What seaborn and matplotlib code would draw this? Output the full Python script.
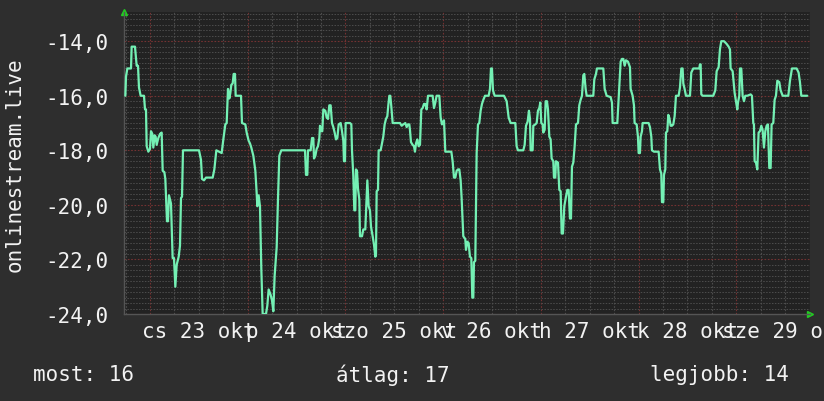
"""Munin/RRD style week graph of onlinestream.live signal level."""

import matplotlib

matplotlib.use("Agg")

import matplotlib.pyplot as plt
import pandas as pd
import seaborn as sns
from matplotlib.ticker import MultipleLocator

START = pd.Timestamp("2025-10-22 17:37")
SPAN_HOURS = 168.5

# traced vertices: hours since START, value
hours = [
    0.33, 0.49, 0.82, 1.72, 1.88, 2.70, 3.11, 3.44, 3.68, 4.09, 4.91, 5.16, 5.40, 5.57, 5.98,
    6.39, 6.63, 6.96, 7.20, 7.53, 7.78, 8.02, 8.43, 8.84, 9.25, 9.50, 9.91, 10.15, 10.56, 10.81,
    11.05, 11.30, 11.54, 11.95, 12.28, 12.61, 12.94, 13.43, 13.75, 14.00, 14.25, 14.49, 18.42,
    18.91, 19.16, 19.65, 20.14, 21.78, 22.19, 22.68, 23.99, 24.40, 24.89, 25.22, 25.54, 25.87,
    26.12, 26.36, 26.69, 26.94, 27.26, 27.43, 28.74, 28.98, 29.80, 30.13, 30.62, 30.95, 31.27,
    31.77, 32.26, 32.58, 32.75, 33.07, 33.40, 33.73, 34.06, 34.88, 35.20, 35.53, 36.02, 36.35,
    36.68, 37.00, 37.50, 37.82, 38.15, 38.64, 42.00,
    44.46, 44.70, 45.03, 45.19, 45.85, 46.18, 46.50, 46.67, 47.00, 47.32, 47.65, 47.98, 48.14,
    48.47, 48.71, 48.96, 49.45, 49.78, 50.11, 50.43, 50.76, 51.09, 51.42, 51.74, 52.07, 52.40,
    52.73, 53.22, 53.55, 53.87, 54.03, 54.28, 54.44, 55.51, 55.84, 56.00, 56.33, 56.57, 56.82,
    56.98, 57.23, 57.47, 57.80, 57.96, 58.46, 58.78, 59.27, 59.77, 60.09, 60.42, 60.67, 61.08,
    61.40, 61.73, 61.89, 62.06, 62.39, 62.55, 63.04, 63.37, 63.69, 64.02, 64.35, 64.68, 64.92,
    65.17, 65.41, 65.66, 65.99, 67.79, 68.20, 68.61, 69.10, 69.43, 69.75, 70.08, 70.24, 70.49,
    70.90, 71.23, 71.47, 71.72, 72.05, 72.37, 72.70, 73.03, 73.36, 73.68, 74.01, 74.34, 74.67,
    75.81, 76.14, 76.47, 76.79, 77.45, 77.78, 78.10, 78.60, 78.92, 80.40, 80.72, 81.05, 81.38,
    81.71, 82.03, 82.36, 82.69,
    82.93, 83.34, 83.83, 84.00, 84.33, 84.65, 84.98, 85.31, 85.55, 85.80, 85.96, 86.29, 86.62,
    86.95, 87.27, 87.60, 87.93, 88.26, 88.67, 89.57, 89.89, 90.14, 90.38, 90.63, 91.04, 93.33,
    93.99, 94.48, 94.97, 96.12, 96.44, 96.77, 98.08, 98.41, 98.74, 99.14, 99.47, 99.72, 99.88,
    100.37, 100.54, 101.03, 101.36, 101.68, 102.01, 102.26, 102.50, 102.83, 102.99, 103.32,
    103.57, 103.89, 104.14, 104.47, 104.79, 105.04, 105.45, 105.61, 105.94, 106.10, 106.60,
    106.92, 107.25, 107.50, 107.82, 108.15, 108.56, 108.89, 109.21, 109.54, 109.79, 110.03,
    110.36, 110.69, 111.02, 111.51, 111.83, 112.16, 112.49, 112.82, 113.06, 113.39, 113.64,
    115.27, 115.52, 115.93, 116.17, 117.73, 118.06, 118.55, 119.53, 119.86, 120.02, 121.17,
    121.49, 121.66, 121.99, 122.31, 122.64, 122.97, 123.29, 123.79, 124.28,
    124.44, 124.93, 125.26, 125.42, 125.92, 126.24, 126.41, 126.73, 126.90, 127.23, 127.39,
    128.86, 129.19, 129.52, 129.68, 130.17, 131.32, 131.65, 131.97, 132.14, 132.47, 132.63,
    132.96, 133.12, 133.45, 133.69, 133.94, 134.27, 134.59, 134.92, 135.25, 135.58, 136.23,
    136.56, 136.89, 137.21, 137.38, 137.70, 138.03, 139.02, 139.34, 139.83, 141.31, 141.47,
    141.64, 141.80, 142.13, 144.75, 145.24, 145.57, 146.06, 146.38, 146.71, 147.37, 148.02,
    148.51, 148.84, 149.00, 149.50, 149.99, 150.31, 150.64, 150.81, 151.13, 151.30, 151.62,
    151.95, 152.28, 152.61, 153.10, 153.92, 154.24, 154.57, 154.73, 154.90, 155.23, 155.55,
    155.88, 156.21, 156.54, 156.86, 157.19, 157.52, 157.85, 158.17, 158.50, 158.83, 159.07,
    159.48, 159.81, 160.14, 160.47, 160.96, 161.28, 161.78, 163.17, 163.58, 164.07, 165.21,
    165.70, 166.03, 166.36, 167.83,
]
signal = [
    -16.0, -15.3, -15.0, -15.0, -14.2, -14.2, -14.9, -14.9, -15.7, -16.0, -16.0, -16.5, -16.5, -17.85, -18.05,
    -17.95, -17.3, -17.4, -17.9, -17.45, -17.5, -17.8, -17.55, -17.4, -17.35, -18.75, -18.8, -19.05, -20.6, -20.6,
    -19.65, -19.8, -19.95, -21.95, -21.95, -23.0, -22.2, -21.9, -21.5, -19.75, -19.7, -18.0, -18.0,
    -18.35, -19.05, -19.1, -19.0, -19.0, -18.7, -18.0, -18.1, -17.6, -17.05, -17.0, -15.75, -16.1,
    -15.9, -15.6, -15.55, -15.2, -15.2, -16.0, -16.0, -17.0, -17.05, -17.35, -17.65, -17.75, -17.9,
    -18.2, -18.75, -19.55, -20.05, -19.65, -20.05, -22.35, -24.0, -24.0, -23.7, -23.1, -23.3, -23.5,
    -23.9, -22.6, -21.55, -19.8, -18.2, -18.0, -18.0,
    -18.0, -18.9, -18.9, -18.0, -18.0, -17.55, -17.55, -18.3, -18.2, -17.95, -17.85, -17.55, -17.1,
    -17.3, -17.3, -16.5, -16.55, -16.8, -16.85, -16.35, -16.35, -17.0, -17.15, -17.35, -17.6, -17.55,
    -17.05, -17.0, -17.3, -17.65, -18.4, -18.4, -17.0, -17.0, -17.05, -18.0, -18.95, -20.2, -20.2,
    -18.7, -18.75, -19.4, -19.8, -21.15, -21.15, -20.9, -20.9, -19.1, -20.05, -20.2, -20.8, -21.15,
    -21.45, -21.9, -21.85, -19.5, -19.45, -18.0, -18.0, -17.75, -17.5, -17.05, -16.85, -16.75, -16.35,
    -16.0, -16.0, -16.4, -17.0, -17.0, -17.1, -17.05, -17.0, -17.15, -17.05, -17.05, -17.25, -17.7,
    -17.8, -17.85, -18.05, -17.75, -17.6, -17.85, -17.8, -16.5, -16.45, -16.3, -16.3, -16.5, -16.0,
    -16.0, -16.45, -16.25, -16.0, -16.0, -16.8, -17.05, -16.9, -18.05, -18.05, -18.4, -19.0, -19.0,
    -18.75, -18.7, -18.7, -19.1,
    -19.75, -21.15, -21.25, -21.65, -21.35, -21.4, -21.9, -21.95, -23.4, -23.4, -22.1, -22.05, -18.1,
    -17.05, -17.0, -16.55, -16.3, -16.15, -16.0, -16.0, -15.75, -15.0, -15.0, -15.8, -16.0, -16.0,
    -16.2, -16.8, -17.0, -17.0, -17.85, -18.0, -18.0, -17.8, -17.1, -16.95, -16.55, -16.85, -18.0,
    -18.0, -17.1, -17.05, -17.0, -16.55, -16.45, -16.25, -17.0, -17.05, -17.35, -17.25,
    -16.2, -16.2, -16.5, -17.5, -17.6, -18.3, -18.4, -19.0, -19.0, -18.4, -18.45,
    -19.45, -19.5, -21.05, -21.05, -20.05, -19.7, -19.45, -19.45, -20.5, -20.5, -18.6,
    -18.45, -17.85, -17.05, -17.0, -16.35, -16.15, -16.0, -15.25, -15.2, -15.75, -16.0,
    -16.0, -15.4, -15.2, -15.0, -15.0, -15.75, -16.0, -16.05, -16.25, -17.0, -17.0,
    -16.15, -15.75, -14.75, -14.65, -14.65, -14.9, -14.7, -14.75, -14.95,
    -15.75, -16.0, -16.35, -17.0, -17.05, -17.5, -18.1, -18.1, -17.5, -17.3, -17.0,
    -17.0, -17.15, -17.5, -18.0, -18.05, -18.05, -18.7, -18.85, -19.9, -19.9, -18.9,
    -18.7, -17.35, -17.3, -16.7, -16.8, -17.1, -17.1, -17.05, -16.75, -16.0, -16.0,
    -15.7, -15.0, -15.0, -15.55, -15.75, -16.0, -16.0, -15.15, -15.0, -15.0, -14.85,
    -14.85, -15.95, -16.0, -16.0, -15.8, -15.1, -14.95, -14.3, -14.0, -14.0, -14.1,
    -14.2, -14.3, -15.0, -15.1, -15.9, -16.2, -16.5, -16.25, -16.0, -15.0, -15.0,
    -16.0, -16.2, -16.0, -16.0, -15.95, -16.0, -17.0, -17.05, -18.4, -18.45, -18.7,
    -17.35, -17.3, -17.1, -17.25, -17.9, -17.3, -17.1, -17.05, -18.65, -18.65, -17.05,
    -17.0, -16.15, -16.0, -15.45, -15.5, -15.8, -16.0, -16.0, -15.45, -15.0, -15.0,
    -15.15, -15.5, -16.0, -16.0,
]

day_labels = ["cs 23 okt", "p 24 okt", "szo 25 okt", "v 26 okt", "h 27 okt", "k 28 okt", "sze 29 okt"]
label_times = pd.date_range("2025-10-23 12:00", periods=7, freq="D")
y_ticks = [-24, -22, -20, -18, -16, -14]
stat_names = ["most", "átlag", "legjobb"]
stat_values = [16, 17, 14]

BG = "#2e2e2e"
PLOT_BG = "#222222"
FG = "#f2f2f2"
LINE = "#74f0b4"
FONT_SIZE = 15

sns.set_style("dark")
plt.rcParams["font.family"] = ["DejaVu Sans Mono"]

df = pd.DataFrame({"time": START + pd.to_timedelta(hours, unit="h"), "signal": signal})

fig = plt.figure(figsize=(8.24, 4.02), dpi=100, facecolor=BG)
ax = fig.add_axes([124 / 824, 1 - 315 / 402, 686 / 824, 302 / 402], facecolor=PLOT_BG)

x_end = START + pd.Timedelta(hours=SPAN_HOURS)
ax.set_xlim(START, x_end)
ax.set_ylim(-24, -12.93)

# grid: grey dotted every 0.2 / 6h, reddish at every 2 units / midnight
ax.yaxis.set_minor_locator(MultipleLocator(0.2))
ax.grid(which="minor", axis="y", color="#4d4d4d", linestyle=(0, (1.5, 1.5)), linewidth=0.7)
ax.grid(which="major", axis="y", color="#743232", linestyle=(0, (1.5, 1.5)), linewidth=0.8)
for t in pd.date_range(START.ceil("6h"), x_end, freq="6h"):
    col = "#743232" if t.hour == 0 else "#4d4d4d"
    ax.axvline(t, color=col, linestyle=(0, (1.5, 1.5)), linewidth=0.8, zorder=0.5)

sns.lineplot(data=df, x="time", y="signal", ax=ax, color=LINE, linewidth=1.6, zorder=3)

ax.set_yticks(y_ticks)
ax.set_yticklabels([f"{v:.1f}".replace(".", ",") for v in y_ticks])
ax.set_xticks(label_times)
ax.set_xticklabels(day_labels)
ax.tick_params(axis="y", colors=FG, labelsize=FONT_SIZE, length=0, pad=11)
ax.tick_params(axis="x", colors=FG, labelsize=FONT_SIZE, length=0, pad=5)
ax.tick_params(which="minor", length=0)
ax.set_xlabel("")
ax.set_ylabel("")
for side in ["top", "right"]:
    ax.spines[side].set_visible(False)
for side in ["left", "bottom"]:
    ax.spines[side].set_color("#555555")
    ax.spines[side].set_linewidth(1)

# little green arrow heads at the axis ends
ax.plot([0], [1.0], marker="^", color="#22cc22", markersize=5, transform=ax.transAxes, clip_on=False)
ax.plot([1.0], [0], marker=">", color="#22cc22", markersize=5, transform=ax.transAxes, clip_on=False)

fig.text(15 / 824, 1 - 165 / 402, "onlinestream.live", rotation=90, color=FG, fontsize=FONT_SIZE,
         ha="center", va="center")
for name, val, xpos in zip(stat_names, stat_values, [33, 336, 650]):
    fig.text(xpos / 824, 1 - 375 / 402, f"{name}: {val}", color=FG, fontsize=FONT_SIZE,
             ha="left", va="center")

fig.savefig("out.png", dpi=100, facecolor=BG)
